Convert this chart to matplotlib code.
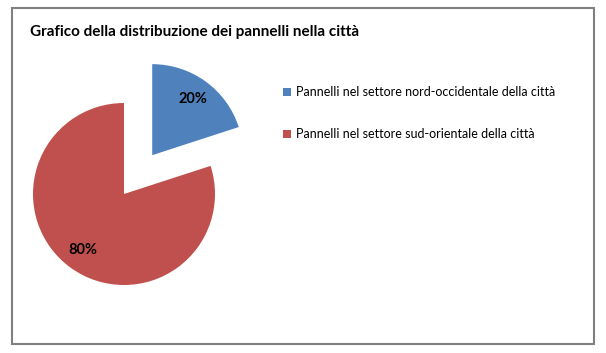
import matplotlib
matplotlib.use("Agg")
import matplotlib.pyplot as plt
from matplotlib.patches import Rectangle

plt.rcParams['font.family'] = ['Lato', 'DejaVu Sans']

title = "Grafico della distribuzione dei pannelli nella città"
labels = ["Pannelli nel settore nord-occidentale della città",
          "Pannelli nel settore sud-orientale della città"]
shares = [20, 80]
colors = ["#4F81BD", "#C0504D"]

W, H = 606, 353
fig = plt.figure(figsize=(W / 100, H / 100), dpi=100)
ax = fig.add_axes([0, 0, 1, 1])

# chart frame
ax.add_patch(Rectangle((12, H - 344), 582, 336, fill=False, ec="#808080", lw=1.5))

ax.text(30, H - 32, title, fontsize=11, fontweight='bold', va='center', ha='left')

# explode is in data units (pixels here); only the first slice pulled out
explode = [48, 0]
wedges, _, autotexts = ax.pie(shares, colors=colors, explode=explode, startangle=90,
                              counterclock=False, center=(124, H - 194), radius=91,
                              autopct='%d%%', pctdistance=0.76, frame=True,
                              textprops=dict(fontsize=10.5, fontweight='bold', color='black'))
ax.set_xlim(0, W)
ax.set_ylim(0, H)
ax.set_aspect('equal')
ax.axis('off')

# legend
for i, (lab, c) in enumerate(zip(labels, colors)):
    y = H - (92 + 42 * i)
    ax.add_patch(Rectangle((283, y - 4), 8, 8, color=c, lw=0))
    ax.text(296, y, lab, fontsize=9, va='center', ha='left')

fig.savefig("out.png", dpi=100)
